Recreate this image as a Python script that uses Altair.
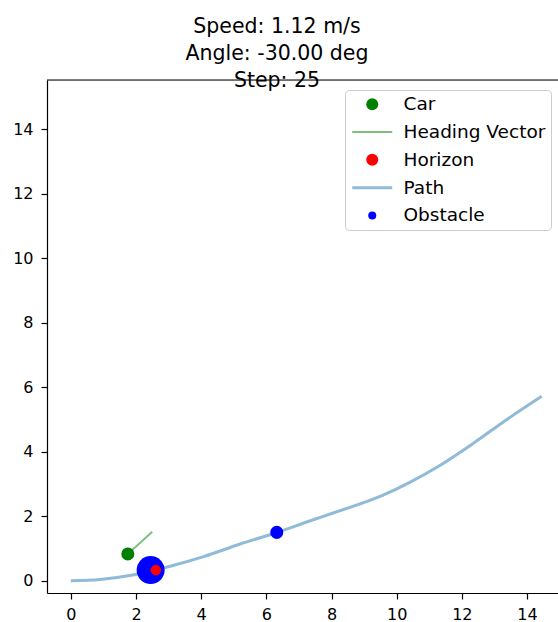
import altair as alt
import pandas as pd

# Planned path (x, y in metres)
path_x = [0.0, 0.9, 1.9, 3.05, 4.05, 5.2, 6.3, 7.35, 8.05, 9.6, 10.4, 11.35, 12.35, 13.35, 14.45]
path_y = [0.0, 0.04, 0.18, 0.45, 0.74, 1.14, 1.49, 1.86, 2.10, 2.66, 3.05, 3.59, 4.26, 4.98, 5.72]

# Vehicle state
car_x, car_y = 1.75, 0.83
heading_tip_x, heading_tip_y = 2.5, 1.52

# Look-ahead point on the path
horizon_x, horizon_y = 2.61, 0.33

# Obstacles: centre and radius
obstacle_x = [2.45, 6.32]
obstacle_y = [0.33, 1.50]
obstacle_r = [0.43, 0.20]

title_lines = ["Speed: 1.12 m/s", "Angle: -30.00 deg", "Step: 25"]
series_names = ["Car", "Heading Vector", "Horizon", "Path", "Obstacle"]
series_colors = ["#008000", "#80bf80", "#ff0000", "#8fbbd9", "#0000ff"]
tick_values = [0, 2, 4, 6, 8, 10, 12, 14]

FONT = "DejaVu Sans"
W, H = 511, 513

path_df = pd.DataFrame({"x": path_x, "y": path_y, "series": "Path"})
heading_df = pd.DataFrame({"x": [car_x, heading_tip_x], "y": [car_y, heading_tip_y],
                           "series": "Heading Vector"})
car_df = pd.DataFrame({"x": [car_x], "y": [car_y], "series": ["Car"]})
horizon_df = pd.DataFrame({"x": [horizon_x], "y": [horizon_y], "series": ["Horizon"]})
obstacle_df = pd.DataFrame({"x": obstacle_x, "y": obstacle_y, "r": obstacle_r,
                            "series": "Obstacle"})

xscale = alt.Scale(domain=[-0.73, 14.95], nice=False, zero=False)
yscale = alt.Scale(domain=[-0.38, 15.53], nice=False, zero=False)

axis_common = dict(values=tick_values, format="d", grid=False, title=None,
                   tickSize=6, tickWidth=1.2, tickColor="black",
                   domainColor="black", domainWidth=1.2,
                   labelFont=FONT, labelFontSize=16, labelColor="black")

X = alt.X("x:Q", scale=xscale, axis=alt.Axis(labelPadding=7, **axis_common))
Y = alt.Y("y:Q", scale=yscale, axis=alt.Axis(labelPadding=8, **axis_common))

# legend: line entries get a long horizontal stroke, the rest a filled dot
is_line = "indexof(['Heading Vector','Path'], datum.value) >= 0"
legend = alt.Legend(
    title=None, orient="none", legendX=298, legendY=10,
    padding=5, symbolOffset=13, labelOffset=22,
    labelFont=FONT, labelFontSize=18.5, labelColor="black",
    rowPadding=8.8, symbolOpacity=1,
    symbolSize={"expr": "datum.value === 'Obstacle' ? 64 : 144"},
    symbolType={"expr": f"{is_line} ? 'M-3.33,0H3.33' : 'circle'"},
    symbolFillColor={"expr": "scale('color', datum.value)"},
    symbolStrokeColor={"expr": "scale('color', datum.value)"},
    symbolStrokeWidth={"expr": f"{is_line} ? (datum.value === 'Path' ? 3 : 2) : 0"},
    fillColor="rgba(255,255,255,0.8)", strokeColor="#cccccc", cornerRadius=4,
)
C = alt.Color("series:N", scale=alt.Scale(domain=series_names, range=series_colors),
              legend=legend)

path = alt.Chart(path_df).mark_line(interpolate="monotone").encode(
    x=X, y=Y, color=C, strokeWidth=alt.value(3))
heading = alt.Chart(heading_df).mark_line().encode(
    x=X, y=Y, color=C, strokeWidth=alt.value(2))
car = alt.Chart(car_df).mark_circle(size=170, opacity=1).encode(x=X, y=Y, color=C)
obstacles = alt.Chart(obstacle_df).mark_circle(opacity=1).encode(
    x=X, y=Y, color=C,
    size=alt.Size("r:Q", scale=alt.Scale(domain=[0.20, 0.43], range=[170, 784]), legend=None))
horizon = alt.Chart(horizon_df).mark_circle(size=110, opacity=1).encode(x=X, y=Y, color=C)

# top spine of the axes frame
top_spine = alt.Chart(pd.DataFrame({"k": [0]})).mark_rule(
    color="black", strokeWidth=1.2).encode(
    x=alt.value(0), x2=alt.value(W), y=alt.value(0))

chart = alt.layer(path, heading, car, obstacles, horizon, top_spine).properties(
    width=W, height=H,
    autosize=alt.AutoSizeParams(type="none"),
    padding={"left": 47, "top": 80, "right": 0, "bottom": 29},
    title=alt.TitleParams(text=title_lines, font=FONT, fontSize=20.5, fontWeight="normal",
                          color="black", anchor="middle", dx=-25.5, baseline="bottom",
                          offset=-32, lineHeight=27),
).configure_view(stroke=None).configure(background="white")

chart.save("out.html", embed_options={"renderer": "svg", "actions": False})
